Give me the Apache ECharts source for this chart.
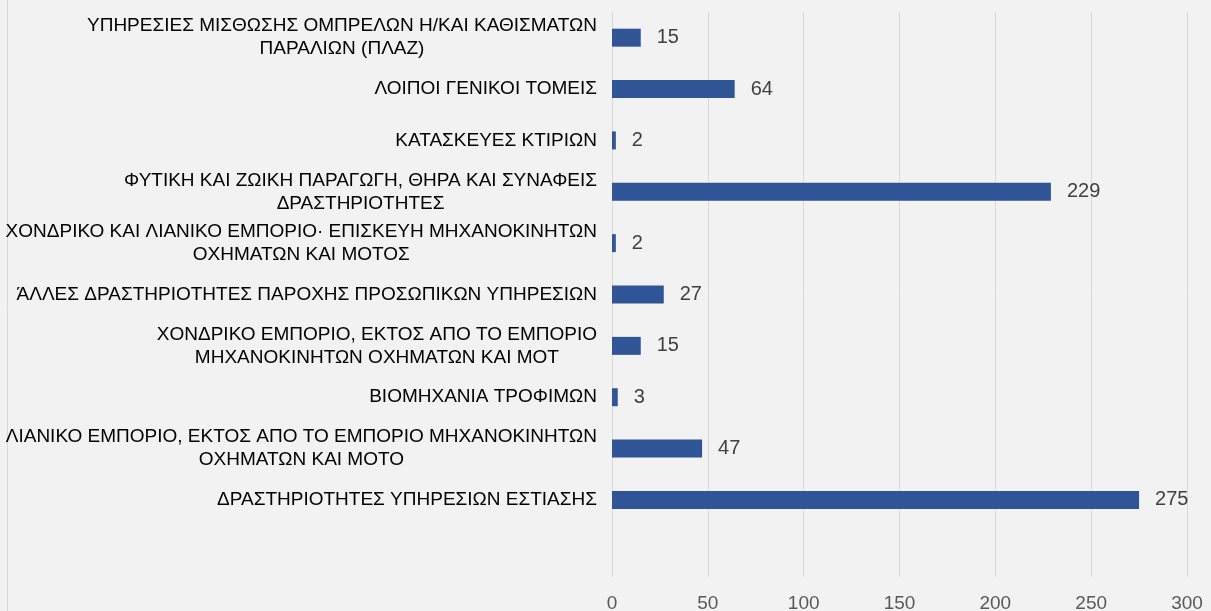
<!DOCTYPE html>
<html>
<head>
<meta charset="utf-8">
<script src="https://cdn.jsdelivr.net/npm/echarts@6/dist/echarts.min.js"></script>
<style>
  html, body { margin: 0; padding: 0; background: #f2f2f2; }
  #main { width: 1211px; height: 611px; }
</style>
</head>
<body>
<div id="main"></div>
<script>
// categories top to bottom (last one is the empty slot at the bottom of the plot)
var categories = [
    'ΥΠΗΡΕΣΙΕΣ ΜΙΣΘΩΣΗΣ ΟΜΠΡΕΛΩΝ Η/ΚΑΙ ΚΑΘΙΣΜΑΤΩΝ\nΠΑΡΑΛΙΩΝ (ΠΛΑΖ)',
    'ΛΟΙΠΟΙ ΓΕΝΙΚΟΙ ΤΟΜΕΙΣ',
    'ΚΑΤΑΣΚΕΥΕΣ ΚΤΙΡΙΩΝ',
    'ΦΥΤΙΚΗ ΚΑΙ ΖΩΙΚΗ ΠΑΡΑΓΩΓΗ, ΘΗΡΑ ΚΑΙ ΣΥΝΑΦΕΙΣ\nΔΡΑΣΤΗΡΙΟΤΗΤΕΣ',
    'ΧΟΝΔΡΙΚΟ ΚΑΙ ΛΙΑΝΙΚΟ ΕΜΠΟΡΙΟ· ΕΠΙΣΚΕΥΗ ΜΗΧΑΝΟΚΙΝΗΤΩΝ\nΟΧΗΜΑΤΩΝ ΚΑΙ ΜΟΤΟΣ',
    'ΆΛΛΕΣ ΔΡΑΣΤΗΡΙΟΤΗΤΕΣ ΠΑΡΟΧΗΣ ΠΡΟΣΩΠΙΚΩΝ ΥΠΗΡΕΣΙΩΝ',
    'ΧΟΝΔΡΙΚΟ ΕΜΠΟΡΙΟ, ΕΚΤΟΣ ΑΠΟ ΤΟ ΕΜΠΟΡΙΟ\nΜΗΧΑΝΟΚΙΝΗΤΩΝ ΟΧΗΜΑΤΩΝ ΚΑΙ ΜΟΤ',
    'ΒΙΟΜΗΧΑΝΙΑ ΤΡΟΦΙΜΩΝ',
    'ΛΙΑΝΙΚΟ ΕΜΠΟΡΙΟ, ΕΚΤΟΣ ΑΠΟ ΤΟ ΕΜΠΟΡΙΟ ΜΗΧΑΝΟΚΙΝΗΤΩΝ\nΟΧΗΜΑΤΩΝ ΚΑΙ ΜΟΤΟ',
    'ΔΡΑΣΤΗΡΙΟΤΗΤΕΣ ΥΠΗΡΕΣΙΩΝ ΕΣΤΙΑΣΗΣ',
    ''
];
var values = [15, 64, 2, 229, 2, 27, 15, 3, 47, 275, null];
var xTicks = [0, 50, 100, 150, 200, 250, 300];

var font = '"Liberation Sans", Arial, sans-serif';

var myChart = echarts.init(document.getElementById('main'));

var option = {
    backgroundColor: '#f2f2f2',
    animation: false,
    graphic: [{
        type: 'line',
        shape: { x1: 7.5, y1: 0, x2: 7.5, y2: 611 },
        style: { stroke: '#d9d9d9', lineWidth: 1 }
    }],
    grid: { left: 612, right: 24, top: 12, bottom: 34, outerBoundsMode: 'none', containLabel: false },
    xAxis: {
        type: 'value',
        min: xTicks[0],
        max: xTicks[xTicks.length - 1],
        interval: 50,
        axisLine: { show: false },
        axisTick: { show: false },
        splitLine: { lineStyle: { color: '#d9d9d9', width: 1 } },
        axisLabel: {
            color: '#595959',
            fontSize: 19,
            fontFamily: font,
            margin: 17
        }
    },
    yAxis: {
        type: 'category',
        inverse: true,
        data: categories,
        axisLine: { show: true, lineStyle: { color: '#d9d9d9' } },
        axisTick: { show: false },
        axisLabel: {
            margin: 15,
            interval: 0,
            formatter: function (v) {
                if (!v) return '';
                // centre every line inside the right-aligned block
                return v.split('\n').map(function (l) { return '{c|' + l + '}'; }).join('\n');
            },
            rich: {
                c: {
                    align: 'center',
                    fontSize: 19,
                    lineHeight: 23,
                    color: '#000000',
                    fontFamily: font
                }
            }
        }
    },
    series: [{
        type: 'bar',
        data: values,
        barWidth: 18,
        itemStyle: { color: '#2f5597' },
        label: {
            show: true,
            position: 'right',
            distance: 16,
            color: '#404040',
            fontSize: 20,
            fontFamily: font
        }
    }]
};

myChart.setOption(option);
</script>
</body>
</html>
